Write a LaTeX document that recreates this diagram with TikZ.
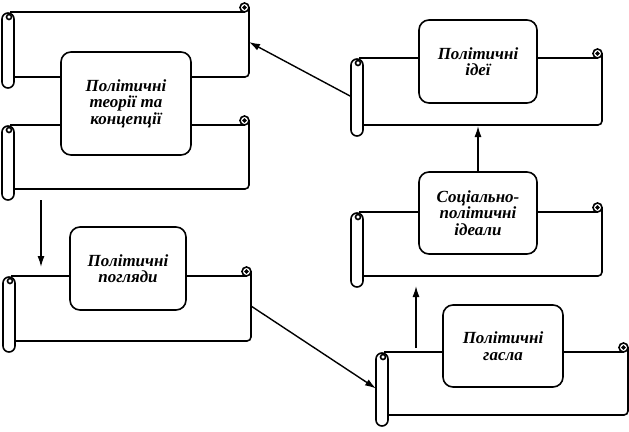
\documentclass[tikz,border=0pt]{standalone}
\usepackage{fontspec}
\setmainfont{Liberation Serif}
\usetikzlibrary{arrows.meta}

% a paper scroll: name, left, right, top, bottom
\newcommand{\scrollsheet}[5]{%
  \draw[sheet, rounded corners=6pt] (#2,#4+1) rectangle (#2+12,#5+11);
  \draw[sheet] (#2+7,#4+5) circle[radius=2.5pt];
  \draw[sheet] (#2+8,#4) -- (#3-4.5,#4);
  \draw[sheet] (#3-4.5,#4-4.5) circle[radius=4.5pt];
  \draw[sheet] (#3-4.5,#4-4.5) circle[radius=1.2pt];
  \draw[sheet, rounded corners=4pt] (#3,#4-4.5) -- (#3,#5) -- (#2+12,#5);
  \coordinate (#1-w) at (#2,{(#4+#5+10)/2});
  \coordinate (#1-e) at (#3,{(#4+#5-5)/2});
  \coordinate (#1-s) at ({(#2+#3)/2},#5);
}

\begin{document}
\begin{tikzpicture}[
  x=1pt, y=-1pt,
  sheet/.style={draw=black, line width=1.6pt},
  idea/.style={draw=black, fill=white, line width=1.6pt, rounded corners=10pt,
    inner sep=0pt, align=center, font=\fontsize{17}{16.5}\selectfont\bfseries\itshape},
  arr/.style={line width=1.4pt, -{Latex[length=11pt,width=7pt]}}
]
  \useasboundingbox (0,0) rectangle (629,431);

  % Scrolls
  \scrollsheet{theoriesA}{2}{249}{12}{77}
  \scrollsheet{theoriesB}{2}{249}{125}{189}
  \scrollsheet{views}{3}{251}{276}{341}
  \scrollsheet{ideas}{351}{602}{58}{125}
  \scrollsheet{ideals}{351}{602}{212}{276}
  \scrollsheet{slogans}{376}{628}{352}{415}

  % Boxes on the scrolls
  \node[idea, minimum width=130pt, minimum height=103pt] (theories) at (126,103.5)
    {Політичні\\теорії та\\концепції};
  \node[idea, minimum width=116pt, minimum height=83pt] (viewsbox) at (128,268.5)
    {Політичні\\погляди};
  \node[idea, minimum width=118pt, minimum height=83pt] (ideasbox) at (478,61.5)
    {Політичні\\ідеї};
  \node[idea, minimum width=118pt, minimum height=82pt] (idealsbox) at (478,213)
    {Соціально-\\політичні\\ідеали};
  \node[idea, minimum width=120pt, minimum height=82pt] (slogansbox) at (503,346)
    {Політичні\\гасла};

  % Free ends of the vertical arrows
  \coordinate (down1) at (41,200);
  \coordinate (down2) at (41,267);
  \coordinate (up1) at (416,348);
  \coordinate (up2) at (416,286);

  % Arrows
  \draw[arr] (down1) -- (down2);
  \draw[arr] (views-e) -- (slogans-w);
  \draw[arr] (up1) -- (up2);
  \draw[arr, shorten >=1pt] (idealsbox.north) -- (idealsbox.north |- ideas-s);
  \draw[arr] (ideas-w) -- (theoriesA-e);
\end{tikzpicture}
\end{document}
